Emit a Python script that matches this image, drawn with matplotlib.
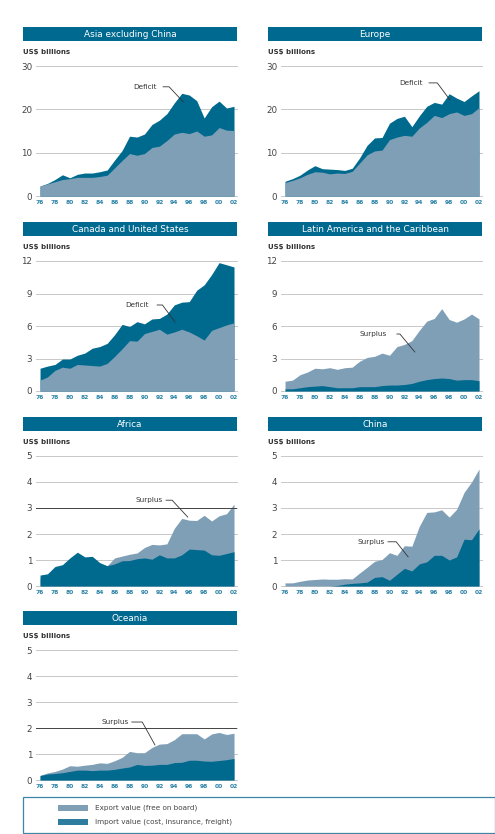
import matplotlib
matplotlib.use("Agg")
import matplotlib.pyplot as plt
from matplotlib.patches import Rectangle

W, H = 495, 834
DPI = 100

years = list(range(1976, 2003))

titles = ["Asia excluding China", "Europe", "Canada and United States",
          "Latin America and the Caribbean", "Africa", "China", "Oceania"]

asia_exp = [2.3, 2.8, 3.3, 3.8, 4.0, 4.3, 4.3, 4.3, 4.5, 4.8, 6.5, 8.2, 9.8, 9.4, 9.8,
            11.2, 11.5, 12.8, 14.3, 14.7, 14.4, 15.0, 13.8, 14.1, 15.8, 15.2, 15.1]
asia_imp = [2.3, 2.9, 3.8, 4.9, 4.2, 5.0, 5.3, 5.3, 5.6, 6.0, 8.3, 10.5, 13.8, 13.6, 14.3,
            16.5, 17.5, 19.0, 21.5, 23.7, 23.3, 22.0, 18.0, 20.6, 21.9, 20.3, 20.7]

eur_exp = [3.1, 3.6, 4.2, 5.0, 5.6, 5.5, 5.1, 5.3, 5.2, 5.7, 7.6, 9.5, 10.4, 10.6, 13.0,
           13.6, 14.0, 13.8, 15.7, 17.0, 18.6, 18.1, 19.0, 19.4, 18.6, 19.0, 20.4]
eur_imp = [3.4, 4.0, 4.8, 6.0, 7.0, 6.3, 6.2, 6.1, 5.9, 6.4, 8.8, 11.7, 13.4, 13.5, 16.8,
           17.9, 18.4, 16.0, 18.5, 20.7, 21.6, 21.2, 23.6, 22.6, 21.8, 23.1, 24.3]

can_exp = [1.0, 1.3, 1.9, 2.2, 2.1, 2.45, 2.4, 2.35, 2.3, 2.55, 3.2, 3.9, 4.65, 4.6, 5.3,
           5.5, 5.7, 5.25, 5.45, 5.7, 5.45, 5.1, 4.7, 5.6, 5.85, 6.1, 6.3]
can_imp = [2.1, 2.3, 2.45, 2.95, 2.95, 3.3, 3.5, 3.95, 4.1, 4.4, 5.2, 6.15, 5.95, 6.4, 6.2,
           6.65, 6.7, 7.1, 7.95, 8.2, 8.25, 9.3, 9.8, 10.75, 11.85, 11.65, 11.45]

lat_exp = [0.9, 1.0, 1.5, 1.75, 2.1, 2.05, 2.15, 2.0, 2.15, 2.2, 2.75, 3.1, 3.2, 3.5, 3.3,
           4.1, 4.3, 4.65, 5.6, 6.45, 6.7, 7.6, 6.6, 6.35, 6.65, 7.1, 6.65]
lat_imp = [0.2, 0.2, 0.3, 0.4, 0.45, 0.5, 0.4, 0.3, 0.3, 0.3, 0.4, 0.4, 0.4, 0.5, 0.55,
           0.55, 0.6, 0.7, 0.9, 1.05, 1.15, 1.2, 1.15, 1.0, 1.05, 1.05, 0.95]

afr_exp = [0.3, 0.35, 0.5, 0.6, 0.7, 0.8, 0.75, 0.75, 0.75, 0.78, 1.08, 1.15, 1.22, 1.27, 1.48,
           1.6, 1.58, 1.62, 2.22, 2.6, 2.53, 2.52, 2.72, 2.5, 2.7, 2.78, 3.15]
afr_imp = [0.42, 0.47, 0.75, 0.82, 1.08, 1.3, 1.12, 1.14, 0.9, 0.78, 0.85, 0.97, 0.98, 1.05, 1.08,
           1.03, 1.2, 1.08, 1.08, 1.2, 1.42, 1.4, 1.38, 1.2, 1.18, 1.25, 1.32]

chn_exp = [0.12, 0.12, 0.18, 0.23, 0.25, 0.27, 0.26, 0.26, 0.28, 0.27, 0.5, 0.72, 0.95, 1.02, 1.28,
           1.18, 1.55, 1.53, 2.3, 2.83, 2.85, 2.93, 2.65, 2.95, 3.6, 4.0, 4.5]
chn_imp = [0.0, 0.0, 0.0, 0.0, 0.0, 0.0, 0.0, 0.02, 0.07, 0.1, 0.12, 0.15, 0.33, 0.36, 0.22,
           0.45, 0.68, 0.58, 0.85, 0.93, 1.18, 1.18, 1.0, 1.12, 1.8, 1.78, 2.2]

oce_exp = [0.18, 0.27, 0.33, 0.42, 0.55, 0.53, 0.57, 0.6, 0.66, 0.64, 0.74, 0.87, 1.1, 1.05, 1.05,
           1.25, 1.38, 1.4, 1.55, 1.78, 1.78, 1.78, 1.58, 1.77, 1.83, 1.75, 1.8]
oce_imp = [0.17, 0.23, 0.25, 0.28, 0.33, 0.38, 0.38, 0.36, 0.38, 0.38, 0.41, 0.46, 0.5, 0.6, 0.56,
           0.57, 0.6, 0.6, 0.67, 0.68, 0.76, 0.76, 0.73, 0.72, 0.75, 0.78, 0.83]

exports = [asia_exp, eur_exp, can_exp, lat_exp, afr_exp, chn_exp, oce_exp]
imports = [asia_imp, eur_imp, can_imp, lat_imp, afr_imp, chn_imp, oce_imp]
yticks = [[0, 10, 20, 30], [0, 10, 20, 30], [0, 3, 6, 9, 12], [0, 3, 6, 9, 12],
          [0, 1, 2, 3, 4, 5], [0, 1, 2, 3, 4, 5], [0, 1, 2, 3, 4, 5]]
xtick_years = list(range(1976, 2003, 2))
xtick_labels = [f"{y % 100:02d}" for y in xtick_years]

notes = ["Deficit", "Deficit", "Deficit", "Surplus", "Surplus", "Surplus", "Surplus"]
# text anchor (right end) and leader line in data coords
note_text = [(1991.6, 25.2), (1994.5, 26.1), (1990.6, 7.94), (1989.7, 5.26),
             (1992.4, 3.3), (1989.4, 1.7), (1987.9, 2.23)]
note_line = [[(1992.5, 25.2), (1993.3, 25.2), (1995.2, 21.7)],
             [(1995.3, 26.1), (1996.4, 26.1), (1998.1, 22.2)],
             [(1991.7, 7.94), (1992.4, 7.94), (1994.1, 6.37)],
             [(1991.0, 5.26), (1991.4, 5.26), (1993.4, 3.6)],
             [(1992.9, 3.3), (1993.7, 3.3), (1995.8, 2.65)],
             [(1989.8, 1.7), (1990.9, 1.7), (1992.5, 1.12)],
             [(1988.3, 2.23), (1989.7, 2.23), (1991.4, 1.35)]]
dark_line = [None, None, None, None, 3, None, 2]

EXP_C = "#7f9fb7"
IMP_C = "#006a8e"
TEAL = "#00698f"
XT_C = "#2a82a6"

fig = plt.figure(figsize=(W / DPI, H / DPI), dpi=DPI)
fig.patch.set_facecolor("white")


def fx(px):
    return px / W


def fy(py):
    return 1 - py / H


col_left = [(36.3, 237.0), (281.3, 482.0)]
title_x = [(23, 237), (268, 482)]
rows = [(66, 196), (261, 391), (456, 586), (650, 780)]

for i in range(7):
    r, c = divmod(i, 2)
    x0, x1 = col_left[c]
    top, bot = rows[r]
    ax = fig.add_axes([fx(x0), fy(bot), fx(x1 - x0), (bot - top) / H])
    e, m = exports[i], imports[i]
    if sum(m) > sum(e):
        ax.fill_between(years, 0, m, color=IMP_C, lw=0, zorder=2)
        ax.fill_between(years, 0, e, color=EXP_C, lw=0, zorder=3)
    else:
        ax.fill_between(years, 0, e, color=EXP_C, lw=0, zorder=2)
        ax.fill_between(years, 0, m, color=IMP_C, lw=0, zorder=3)
    ax.set_xlim(1975.5, 2002.4)
    yt = yticks[i]
    ax.set_ylim(0, yt[-1])
    ax.set_yticks(yt)
    ax.set_yticklabels([str(v) for v in yt], fontsize=6.3, color="#444444")
    ax.set_xticks(xtick_years)
    ax.set_xticklabels(xtick_labels, fontsize=4.3, color=XT_C, fontweight="bold")
    ax.tick_params(axis="both", length=0)
    ax.tick_params(axis="y", pad=3)
    ax.tick_params(axis="x", pad=3)
    for s in ax.spines.values():
        s.set_visible(False)
    for v in yt:
        ax.axhline(v, color="#c8c8c8", lw=0.7, zorder=1, clip_on=False)
    if dark_line[i] is not None:
        ax.axhline(dark_line[i], color="#444444", lw=0.7, zorder=4)
    tx, ty = note_text[i]
    ax.text(tx, ty, notes[i], ha="right", va="center", fontsize=5.2, color="#333333", zorder=5)
    lx = [p[0] for p in note_line[i]]
    ly = [p[1] for p in note_line[i]]
    ax.plot(lx, ly, color="#333333", lw=0.6, zorder=5, clip_on=False)

    # title bar
    tx0, tx1 = title_x[c]
    tb_top = top - 39
    fig.patches.append(Rectangle((fx(tx0), fy(tb_top + 14)), fx(tx1 - tx0), 14 / H,
                                 transform=fig.transFigure, color=TEAL, lw=0))
    fig.text(fx((tx0 + tx1) / 2), fy(tb_top + 7.2), titles[i], ha="center", va="center",
             fontsize=6.4, color="white")
    fig.text(fx(tx0), fy(top - 14), "US$ billions", ha="left", va="center",
             fontsize=5.0, color="#333333", fontweight="bold")

# legend
fig.patches.append(Rectangle((fx(23), fy(833)), fx(472), 36 / H, transform=fig.transFigure,
                             facecolor="white", edgecolor="#3d86a6", lw=0.9))
leg_labels = ["Export value (free on board)", "Import value (cost, insurance, freight)"]
leg_colors = [EXP_C, "#2f7d9e"]
for k, (lab, col) in enumerate(zip(leg_labels, leg_colors)):
    yc = 808 + k * 14
    fig.patches.append(Rectangle((fx(58), fy(yc + 3)), fx(30), 6 / H,
                                 transform=fig.transFigure, color=col, lw=0))
    fig.text(fx(95), fy(yc), lab, ha="left", va="center", fontsize=5.2, color="#444444")

fig.savefig("out.png", dpi=DPI)
